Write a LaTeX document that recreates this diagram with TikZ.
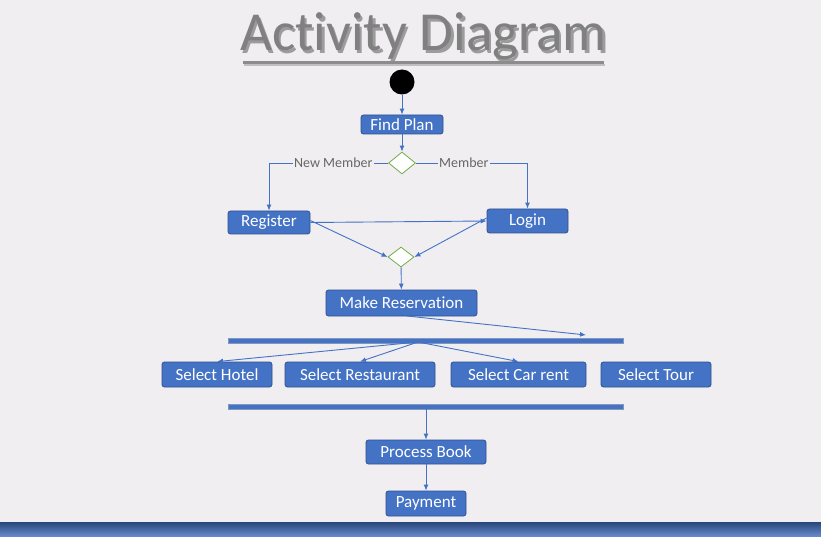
\documentclass[tikz,border=0pt]{standalone}
\usepackage{fontspec}
\setmainfont[Ligatures=NoCommon]{Carlito}
\usetikzlibrary{arrows.meta,shapes.geometric}
\definecolor{bg}{HTML}{F0EEF1}
\definecolor{boxfill}{HTML}{4472C4}
\definecolor{boxline}{HTML}{2F528F}
\definecolor{lnk}{HTML}{4472C4}
\definecolor{dgreen}{HTML}{70AD47}
\definecolor{lbl}{HTML}{666666}
\tikzset{
  act/.style={draw=boxline, fill=boxfill, rounded corners=2.5pt, text=white, font=\fontsize{17}{20}\selectfont, inner sep=0pt, line width=0.8pt},
  dec/.style={diamond, draw=dgreen, fill=white, minimum width=27pt, minimum height=22pt, inner sep=0pt, line width=0.8pt},
  flow/.style={draw=lnk, line width=0.9pt, -{Latex[length=6pt,width=5pt]}},
  bar/.style={fill=boxfill, draw=boxline!60, line width=0.5pt},
  guard/.style={text=lbl, font=\fontsize{14}{16}\selectfont, fill=bg, inner sep=1pt},
  ttl/.style={font=\fontsize{55}{60}\selectfont}
}
\begin{document}
\begin{tikzpicture}[x=1pt,y=-1pt]
\useasboundingbox (0,0) rectangle (821,537);
\fill[bg] (0,0) rectangle (821,537);
\shade[top color=boxline!85!black, bottom color=boxfill!80!white] (0,522) rectangle (821,537);
% title
\node (tshadow) [ttl, text=black!65, opacity=0.55] at (426,39) {Activity Diagram};
\node (title) [ttl, text=black!50] at (423.5,36) {Activity Diagram};
\fill[black!45] (243,61) rectangle (604,64);
\fill[black!25] (244,64) rectangle (605,66);
% nodes
\node (start) [circle, fill=black, minimum size=25pt, inner sep=0pt] at (402,82) {};
\node (find) [act, minimum width=82pt, minimum height=19pt] at (402,124.5) {Find Plan};
\node (d1) [dec] at (402,163) {};
\node (reg) [act, minimum width=82pt, minimum height=23pt] at (269,222.5) {Register};
\node (login) [act, minimum width=81pt, minimum height=24pt] at (527.5,221) {Login};
\node (d2) [dec, minimum width=26pt, minimum height=20pt] at (401,257) {};
\node (mr) [act, minimum width=151pt, minimum height=26pt] at (401.5,303) {Make Reservation};
\node (fork) [bar, minimum width=395pt, minimum height=4.5pt, inner sep=0pt] at (425.5,340.5) {};
\node (hotel) [act, minimum width=110pt, minimum height=25pt] at (217,374.5) {Select Hotel};
\node (rest) [act, minimum width=150pt, minimum height=25pt] at (360,374.5) {Select Restaurant};
\node (car) [act, minimum width=135pt, minimum height=25pt] at (518.5,374.5) {Select Car rent};
\node (tour) [act, minimum width=110pt, minimum height=25pt] at (656,374.5) {Select Tour};
\node (join) [bar, minimum width=395pt, minimum height=4.5pt, inner sep=0pt] at (425.5,406.5) {};
\node (pb) [act, minimum width=120pt, minimum height=24pt] at (426,452) {Process Book};
\node (pay) [act, minimum width=80pt, minimum height=25pt] at (426,503.5) {Payment};
\coordinate (mrend) at (586,335);
\coordinate (mrstart) at (407,316);
\coordinate (fsplit) at (418,342);
\coordinate (jout) at (426,409);
% connectors
\draw[flow] (start) -- (find);
\draw[flow] (find) -- (d1);
\draw[flow] (d1.west) -- node[guard, pos=0.46] {New Member} (reg.north |- d1.west) -- (reg.north);
\draw[flow] (d1.east) -- node[guard, pos=0.43] {Member} (login.north |- d1.east) -- (login.north);
\draw[flow] (reg.east) -- (login.west);
\draw[flow] ([yshift=2pt]reg.east) -- (d2.west);
\draw[flow] ([yshift=3pt]login.west) -- (d2.east);
\draw[flow] (d2) -- (mr);
\draw[flow] (mrstart) -- (mrend);
\draw[flow] (fsplit) -- (hotel.north);
\draw[flow] (fsplit) -- (rest.north);
\draw[flow] (fsplit) -- (car.north);
\draw[flow] (jout) -- (pb.north);
\draw[flow] (pb) -- (pay);
\end{tikzpicture}
\end{document}
